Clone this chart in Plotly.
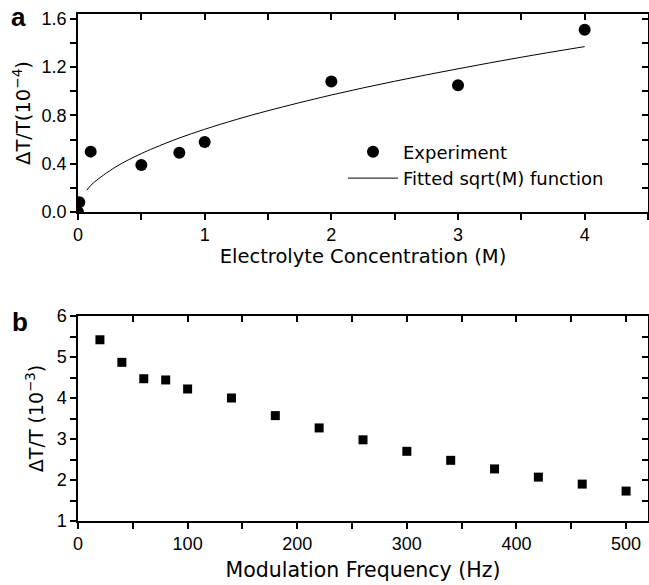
import plotly.graph_objects as go

# Panel a data
conc_m = [0.0, 0.01, 0.1, 0.5, 0.8, 1.0, 2.0, 3.0, 4.0]
dtt_a = [0.0, 0.08, 0.50, 0.39, 0.49, 0.58, 1.08, 1.05, 1.51]
# fitted sqrt(M) curve
fit_x = [0.07, 0.1, 0.15, 0.2, 0.3, 0.4, 0.5, 0.6, 0.8, 1.0, 1.25, 1.5, 2.0, 2.5, 3.0, 3.5, 4.0]
fit_y = [0.18, 0.22, 0.265, 0.305, 0.375, 0.433, 0.484, 0.53, 0.613, 0.685, 0.766, 0.839, 0.969, 1.083, 1.186, 1.282, 1.37]

# Panel b data
freq_hz = [20, 40, 60, 80, 100, 140, 180, 220, 260, 300, 340, 380, 420, 460, 500]
dtt_b = [5.42, 4.87, 4.47, 4.44, 4.22, 4.00, 3.57, 3.27, 2.98, 2.70, 2.48, 2.27, 2.07, 1.90, 1.73]

TFONT = "DejaVu Sans"
NFONT = "Liberation Sans"
LW = 1.5

W, H = 649, 585
ml, mr, mt, mb = 78, 1, 14, 64
pw, ph = W - ml - mr, H - mt - mb
def px(xp):
    return (xp - ml) / pw
def py(yp):
    return (H - mb - yp) / ph

fig = go.Figure()
fig.add_trace(go.Scatter(x=conc_m, y=dtt_a, mode="markers", name="Experiment", legendgroup="g1",
                         marker=dict(symbol="circle", size=12, color="black"),
                         xaxis="x", yaxis="y"))
fig.add_trace(go.Scatter(x=fit_x, y=fit_y, mode="lines", name="Fitted sqrt(M) function", legendgroup="g2",
                         line=dict(color="black", width=1, shape="spline"),
                         xaxis="x", yaxis="y"))
fig.add_trace(go.Scatter(x=freq_hz, y=dtt_b, mode="markers", showlegend=False,
                         marker=dict(symbol="square", size=9, color="black"),
                         xaxis="x2", yaxis="y2"))

tickfont = dict(family=NFONT, size=18, color="black")

def main_axis(rng, dtick, minor_dtick, title, standoff, tsize, **kw):
    d = dict(range=rng, dtick=dtick, tick0=0, showline=True, linecolor="black", linewidth=LW,
             mirror=True, ticks="outside", ticklen=6, tickwidth=LW, tickcolor="black",
             minor=dict(ticks="outside", dtick=minor_dtick, tick0=0, ticklen=6, tickwidth=LW, tickcolor="black"),
             showgrid=False, zeroline=False, tickfont=tickfont, automargin=False,
             title=dict(text=title, font=dict(family=TFONT, size=tsize, color="black"), standoff=standoff))
    d.update(kw)
    return d

def overlay_axis(rng, minor_dtick, overlaying, side, anchor):
    return dict(range=rng, overlaying=overlaying, side=side, anchor=anchor,
                dtick=minor_dtick, tick0=0, ticks="inside", ticklen=6, tickwidth=LW,
                tickcolor="black", showticklabels=False, showgrid=False, zeroline=False,
                showline=False, automargin=False)

fig.update_layout(
    width=W, height=H,
    margin=dict(l=ml, r=mr, t=mt, b=mb),
    paper_bgcolor="white", plot_bgcolor="white",
    showlegend=True,
    xaxis=main_axis([0, 4.5], 1, 0.5, "Electrolyte Concentration (M)", 5, 19.5, anchor="y", domain=[0, 1],
                    tickformat="d"),
    yaxis=main_axis([0, 1.64], 0.4, 0.2, "ΔT/T(10<sup>−4</sup>)", 6, 19.5, anchor="x", domain=[py(212), 1],
                    tickformat=".1f"),
    xaxis2=main_axis([0, 520], 100, 50, "Modulation Frequency (Hz)", 9, 20.5, anchor="y2", domain=[0, 1]),
    yaxis2=main_axis([1, 6], 1, 0.5, "ΔT/T (10<sup>−3</sup>)", 8, 19, anchor="x2", domain=[0, py(316)]),
    xaxis3=overlay_axis([0, 4.5], 0.5, "x", "top", "y"),
    yaxis3=overlay_axis([0, 1.64], 0.2, "y", "right", "x"),
    xaxis4=overlay_axis([0, 520], 50, "x2", "top", "y2"),
    yaxis4=overlay_axis([1, 6], 0.5, "y2", "right", "x2"),
    legend=dict(x=px(343), y=py(165), xanchor="left", yanchor="middle", bgcolor="rgba(0,0,0,0)",
                itemwidth=50, traceorder="grouped", tracegroupgap=0,
                font=dict(family=TFONT, size=18, color="black")),
)

fig.add_annotation(text="<b>a</b>", x=px(18), y=py(17), xref="paper", yref="paper", showarrow=False,
                   xanchor="center", yanchor="middle",
                   font=dict(family="Liberation Sans", size=26, color="black"))
fig.add_annotation(text="<b>b</b>", x=px(20), y=py(322), xref="paper", yref="paper", showarrow=False,
                   xanchor="center", yanchor="middle",
                   font=dict(family="Liberation Sans", size=26, color="black"))

# traces bound to the overlay axes so they render
fig.add_trace(go.Scatter(x=[None], y=[None], xaxis="x3", yaxis="y3", showlegend=False, hoverinfo="skip"))
fig.add_trace(go.Scatter(x=[None], y=[None], xaxis="x4", yaxis="y4", showlegend=False, hoverinfo="skip"))

fig.write_html("out.html", config={"displayModeBar": False},
               post_script="document.body.style.margin='0';")
